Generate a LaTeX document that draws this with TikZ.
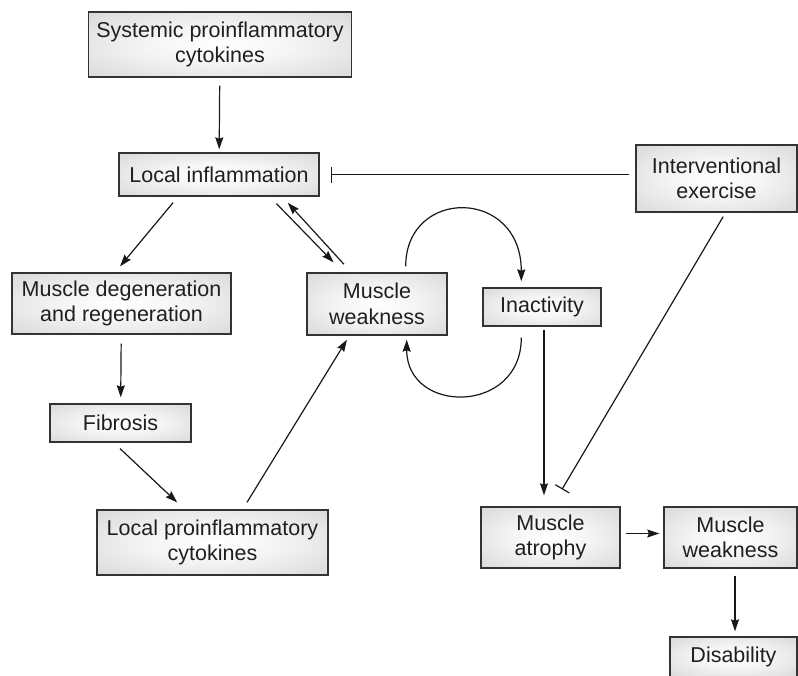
\documentclass[tikz,border=0pt]{standalone}
\usepackage{fontspec}
\setmainfont{Liberation Sans}
\usetikzlibrary{arrows.meta,calc}
\pgfdeclareradialshading{boxshade}{\pgfpoint{0bp}{0bp}}{%
color(0bp)=(white); color(14bp)=(white!96!black); color(50bp)=(black!22); color(72bp)=(black!28)}
\tikzset{
>={Stealth[length=12pt,width=8pt,inset=1.5pt]},
box node/.style={draw=black!80,line width=1.4pt,shade,shading=boxshade,inner sep=0pt,
  align=center,text=black!88,font=\fontsize{21.5pt}{25.5pt}\selectfont},
link/.style={->,color=black!90,line width=1.2pt,shorten >=4pt,shorten <=6pt},
inhibit/.style={-{Bar[width=16pt]},color=black!90,line width=1.2pt,shorten >=11pt,shorten <=6pt}}

\begin{document}
\begin{tikzpicture}[x=1pt,y=-1pt]
\path[use as bounding box] (0,0) rectangle (798,675);
\clip (0,0) rectangle (798,675);

\node[box node,minimum width=263pt,minimum height=65pt] (sys) at (220,44.5) {Systemic proinflammatory\\cytokines};
\node[box node,minimum width=200pt,minimum height=43pt] (locinf) at (219,174.5) {Local inflammation};
\node[box node,minimum width=161pt,minimum height=67pt] (exer) at (716.5,178.5) {Interventional\\exercise};
\node[box node,minimum width=219pt,minimum height=61pt] (degen) at (121.5,303.5) {Muscle degeneration\\and regeneration};
\node[box node,minimum width=140pt,minimum height=62pt] (weak) at (377,304) {Muscle\\weakness};
\node[box node,minimum width=118pt,minimum height=38pt] (inact) at (542,307) {Inactivity};
\node[box node,minimum width=141pt,minimum height=38pt] (fib) at (120.5,423) {Fibrosis};
\node[box node,minimum width=231pt,minimum height=65pt] (locpro) at (212.5,542.5) {Local proinflammatory\\cytokines};
\node[box node,minimum width=139pt,minimum height=61pt] (atro) at (550.5,537.5) {Muscle\\atrophy};
\node[box node,minimum width=133pt,minimum height=61pt] (weak2) at (730.5,537.5) {Muscle\\weakness};
\node[box node,minimum width=127pt,minimum height=40pt] (dis) at (733.5,657) {Disability};

\coordinate (arcA) at ($(weak.north east)+(-42,-6)$);
\coordinate (arcB) at ($(inact.north west)+(39,-6)$);
\coordinate (arcC) at ($(inact.south west)+(39,11)$);
\coordinate (arcD) at ($(weak.south east)+(-41,4)$);

\path[link,shorten <=8pt,shorten >=3pt] (sys) edge (locinf);
\path[inhibit] (exer.west |- locinf) edge (locinf.east);
\path[link,shorten <=7.7pt,shorten >=7.7pt] ([xshift=-41pt]locinf.south) edge ([xshift=-6.4pt]degen.north);
\path[link,shorten <=9.7pt,shorten >=13.9pt] ([xshift=-50pt]locinf.south east) edge ([xshift=37pt]weak.north west);
\path[link,shorten <=10.9pt,shorten >=8.2pt] ([xshift=45pt]weak.north west) edge ([xshift=-37.5pt]locinf.south east);
\path[link,shorten <=9pt,shorten >=6pt] (degen) edge (fib);
\path[link,shorten <=8.6pt,shorten >=10pt] ([xshift=-6.7pt]fib.south) edge ([xshift=-28pt]locpro.north);
\path[link,shorten <=8.2pt,shorten >=4.7pt] ([xshift=30.2pt]locpro.north) edge ([xshift=-27.6pt]weak.south);
\draw[link,shorten <=0pt,shorten >=0pt] (arcA) .. controls +(0,-79) and +(0,-94) .. (arcB);
\draw[link,shorten <=0pt,shorten >=0pt] (arcC) .. controls +(0,77) and +(0,75) .. (arcD);
\path[link,shorten <=3pt,shorten >=11pt] ([xshift=2pt]inact.south) edge ($(inact.south |- atro.north)+(2,0)$);
\path[inhibit,shorten <=4.6pt,shorten >=19.7pt] ([xshift=9pt]exer.south) edge ([xshift=1.5pt]atro.north);
\path[link,shorten <=5pt,shorten >=4pt] ([yshift=4pt]atro.east) edge ($(atro.east -| weak2.west)+(0,-4)$);
\path[link,shorten <=7pt,shorten >=5pt] ($(weak2.south)+(4.5,0)$) edge ($(weak2.south |- dis.north)+(4.5,0)$);

\end{tikzpicture}
\end{document}
